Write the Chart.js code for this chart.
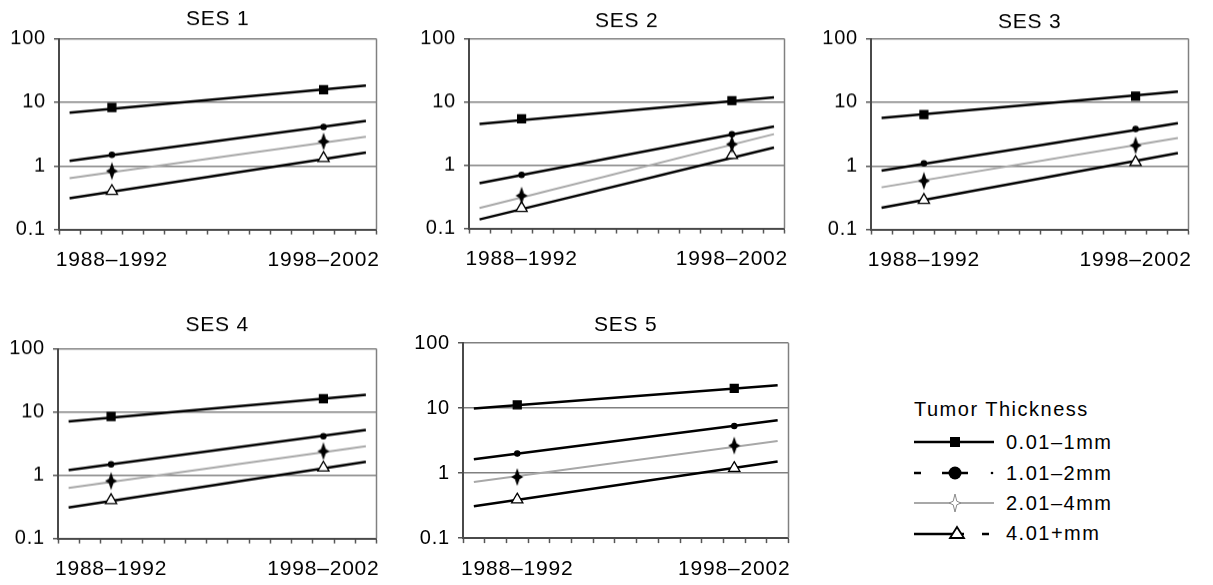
<!DOCTYPE html>
<html>
<head>
<meta charset="utf-8">
<script src="https://cdn.jsdelivr.net/npm/chart.js@4.4.1/dist/chart.umd.min.js"></script>
<style>
  body { margin: 0; background: #fff; width: 1213px; height: 585px; overflow: hidden; position: relative;
         font-family: "Liberation Sans", Arial, Helvetica, sans-serif; }
  .panel { position: absolute; }
  .legend-title, .legend-row { position: absolute; font-size: 20px; line-height: 24px; letter-spacing: 1.5px; color: #000; white-space: nowrap; }
  .legend-row canvas { position: absolute; left: 0; top: 0; }
  .legend-row span { position: absolute; left: 92px; top: 0; }
</style>
</head>
<body>
<div class="panel" id="p1"><canvas id="c1"></canvas></div>
<div class="panel" id="p2"><canvas id="c2"></canvas></div>
<div class="panel" id="p3"><canvas id="c3"></canvas></div>
<div class="panel" id="p4"><canvas id="c4"></canvas></div>
<div class="panel" id="p5"><canvas id="c5"></canvas></div>
<div id="legend"></div>

<script>
// ---- data ----
const periods = ['1988–1992', '1998–2002'];
const periodMidYears = [1990, 2000];
const trendYears = [1988, 2002];
const thicknessGroups = ['0.01–1mm', '1.01–2mm', '2.01–4mm', '4.01+mm'];
const sesGroups = ['SES 1', 'SES 2', 'SES 3', 'SES 4', 'SES 5'];
const yTicks = [0.1, 1, 10, 100];

// observed rates per thickness group: [1988–1992, 1998–2002]
const ses1Rates = [[8.3, 15.8], [1.49, 4.1], [0.83, 2.42], [0.40, 1.32]];
const ses2Rates = [[5.4, 10.5], [0.70, 3.1], [0.33, 2.15], [0.21, 1.44]];
const ses3Rates = [[6.4, 12.5], [1.1, 3.8], [0.58, 2.1], [0.29, 1.14]];
const ses4Rates = [[8.5, 16.2], [1.49, 4.15], [0.81, 2.4], [0.40, 1.31]];
const ses5Rates = [[11.2, 20.1], [2.0, 5.3], [0.87, 2.65], [0.39, 1.19]];

// fitted trend per thickness group: [value at 1988, value at 2002]
const ses1Trend = [[6.9, 18.3], [1.2, 5.1], [0.64, 2.87], [0.31, 1.62]];
const ses2Trend = [[4.5, 11.8], [0.52, 4.1], [0.21, 3.1], [0.139, 1.9]];
const ses3Trend = [[5.7, 14.7], [0.84, 4.7], [0.46, 2.74], [0.22, 1.59]];
const ses4Trend = [[7.1, 18.7], [1.2, 5.2], [0.63, 2.88], [0.31, 1.63]];
const ses5Trend = [[9.9, 22.4], [1.64, 6.5], [0.73, 3.13], [0.31, 1.51]];

const allRates = [ses1Rates, ses2Rates, ses3Rates, ses4Rates, ses5Rates];
const allTrends = [ses1Trend, ses2Trend, ses3Trend, ses4Trend, ses5Trend];

// ---- layout ----
const panelBoxes = [
  { left: 59, top: 39, right: 378, bottom: 229, titleGap: 19 },
  { left: 469, top: 39, right: 786, bottom: 228, titleGap: 17 },
  { left: 871, top: 39, right: 1190, bottom: 229, titleGap: 16 },
  { left: 58, top: 349, right: 378, bottom: 538, titleGap: 23 },
  { left: 463, top: 343, right: 790, bottom: 538, titleGap: 17.5 }
];
const Y_AXIS_W = 62, X_AXIS_H = 48, PAD_RIGHT = 12;
const TITLE_SIZE = 21, TITLE_LH = 1.2, TITLE_PAD_TOP = 2;
const FONT = '"Liberation Sans", Arial, Helvetica, sans-serif';

function makeStar(fill, stroke, inner) {
  const c = document.createElement('canvas');
  c.width = 14; c.height = 20;
  const g = c.getContext('2d');
  g.translate(7, 10);
  g.beginPath();
  g.moveTo(0, -9); g.lineTo(inner, -inner); g.lineTo(6, 0); g.lineTo(inner, inner);
  g.lineTo(0, 9); g.lineTo(-inner, inner); g.lineTo(-6, 0); g.lineTo(-inner, -inner);
  g.closePath();
  g.fillStyle = fill;
  g.fill();
  if (stroke) { g.strokeStyle = stroke; g.lineWidth = 1; g.stroke(); }
  return c;
}

const seriesStyles = [
  { line: '#000', width: 2.5, point: 'rect', radius: 5.6, fill: '#000' },
  { line: '#000', width: 2.5, point: 'circle', radius: 2.6, fill: '#000' },
  { line: '#a8a8a8', width: 2, point: makeStar('#000', null, 2.3), radius: 8, fill: '#000' },
  { line: '#000', width: 2.5, point: 'triangle', radius: 6.5, fill: '#fff' }
];

const framePlugin = {
  id: 'frame',
  beforeDraw(chart) {
    chart.ctx.letterSpacing = '0.8px';
  },
  beforeDatasetsDraw(chart) {
    const { ctx, chartArea: a } = chart;
    ctx.save();
    ctx.strokeStyle = '#808080';
    ctx.lineWidth = 1.5;
    ctx.beginPath();
    ctx.moveTo(a.right, a.top);
    ctx.lineTo(a.right, a.bottom);
    ctx.stroke();
    ctx.restore();
  }
};

function buildDatasets(rates, trend) {
  const points = rates.map((vals, i) => ({
    label: thicknessGroups[i],
    data: vals.map((v, j) => ({ x: periodMidYears[j], y: v })),
    showLine: false,
    pointStyle: seriesStyles[i].point,
    pointRadius: seriesStyles[i].radius,
    pointBackgroundColor: seriesStyles[i].fill,
    pointBorderColor: '#000',
    pointBorderWidth: 1.3
  }));
  const lines = trend.map((vals, i) => ({
    label: thicknessGroups[i] + ' trend',
    data: vals.map((v, j) => ({ x: trendYears[j], y: v })),
    showLine: true,
    borderColor: seriesStyles[i].line,
    borderWidth: seriesStyles[i].width,
    pointRadius: 0
  }));
  return points.concat(lines);
}

function makeChart(k) {
  const box = panelBoxes[k];
  const titlePadBottom = box.titleGap - TITLE_SIZE * TITLE_LH / 2;
  const titleBlock = TITLE_PAD_TOP + TITLE_SIZE * TITLE_LH + titlePadBottom;
  const div = document.getElementById('p' + (k + 1));
  div.style.left = (box.left - Y_AXIS_W) + 'px';
  div.style.top = (box.top - titleBlock) + 'px';
  div.style.width = (box.right - box.left + Y_AXIS_W + PAD_RIGHT) + 'px';
  div.style.height = (titleBlock + box.bottom - box.top + X_AXIS_H) + 'px';

  new Chart(document.getElementById('c' + (k + 1)), {
    type: 'scatter',
    data: { datasets: buildDatasets(allRates[k], allTrends[k]) },
    plugins: [framePlugin],
    options: {
      responsive: true,
      maintainAspectRatio: false,
      animation: false,
      events: [],
      layout: { padding: { left: 0, right: PAD_RIGHT, top: 0, bottom: 0 } },
      plugins: {
        legend: { display: false },
        tooltip: { enabled: false },
        title: {
          display: true,
          text: sesGroups[k],
          fullSize: false,
          color: '#000',
          font: { family: FONT, size: TITLE_SIZE, weight: 'normal', lineHeight: TITLE_LH },
          padding: { top: TITLE_PAD_TOP, bottom: titlePadBottom }
        }
      },
      scales: {
        x: {
          type: 'linear',
          min: 1987.5,
          max: 2002.5,
          afterBuildTicks: axis => {
            const t = [];
            for (let v = 1987.5; v <= 2002.5; v += 1) t.push(v);
            axis.ticks = t.concat(periodMidYears).sort((a, b) => a - b).map(v => ({ value: v }));
          },
          afterFit: s => { s.height = X_AXIS_H; },
          ticks: {
            autoSkip: false,
            maxRotation: 0,
            minRotation: 0,
            padding: 13.5,
            color: '#000',
            font: { family: FONT, size: 21 },
            callback: value => {
              const idx = periodMidYears.indexOf(value);
              return idx >= 0 ? periods[idx] : '';
            }
          },
          grid: {
            drawOnChartArea: false,
            drawTicks: true,
            tickLength: 5,
            tickWidth: 1.5,
            tickColor: ctx => (ctx.tick && periodMidYears.includes(ctx.tick.value)) ? 'rgba(0,0,0,0)' : '#555'
          },
          border: { color: '#4a4a4a', width: 2 }
        },
        y: {
          type: 'logarithmic',
          min: 0.1,
          max: 100,
          afterBuildTicks: axis => { axis.ticks = yTicks.map(v => ({ value: v })); },
          afterFit: s => { s.width = Y_AXIS_W; },
          ticks: {
            padding: 8,
            color: '#000',
            font: { family: FONT, size: 20 },
            callback: value => String(value)
          },
          grid: {
            color: '#808080',
            lineWidth: 1.5,
            tickLength: 5,
            tickColor: '#555'
          },
          border: { color: '#4a4a4a', width: 2 }
        }
      }
    }
  });
}

sesGroups.forEach((_, k) => makeChart(k));

// ---- legend ----
const legendRowTops = [430, 461, 491, 521];
const legend = document.getElementById('legend');
const title = document.createElement('div');
title.className = 'legend-title';
title.style.left = '914px';
title.style.top = '397px';
title.textContent = 'Tumor Thickness';
legend.appendChild(title);

function drawSample(g, i) {
  const cy = 12;
  g.lineCap = 'butt';
  if (i === 0) {
    g.strokeStyle = '#000'; g.lineWidth = 2.5;
    g.beginPath(); g.moveTo(0, cy); g.lineTo(80, cy); g.stroke();
    g.fillStyle = '#000'; g.fillRect(36, cy - 5, 10, 10);
  } else if (i === 1) {
    g.strokeStyle = '#000'; g.lineWidth = 2.5;
    g.beginPath(); g.moveTo(0, cy); g.lineTo(7, cy); g.stroke();
    g.beginPath(); g.moveTo(28, cy); g.lineTo(54, cy); g.stroke();
    g.fillStyle = '#000';
    g.beginPath(); g.arc(41, cy, 6.5, 0, Math.PI * 2); g.fill();
    g.beginPath(); g.arc(78, cy, 1.3, 0, Math.PI * 2); g.fill();
  } else if (i === 2) {
    g.strokeStyle = '#a8a8a8'; g.lineWidth = 2;
    g.beginPath(); g.moveTo(0, cy); g.lineTo(80, cy); g.stroke();
    g.drawImage(makeStar('#fff', '#888', 1.8), 34, cy - 10);
  } else {
    g.strokeStyle = '#000'; g.lineWidth = 2.5;
    g.beginPath(); g.moveTo(0, cy + 1); g.lineTo(50, cy + 1); g.stroke();
    g.beginPath(); g.moveTo(68, cy + 1); g.lineTo(75, cy + 1); g.stroke();
    g.fillStyle = '#fff'; g.lineWidth = 1.8;
    g.beginPath(); g.moveTo(43, cy - 6); g.lineTo(50, cy + 5); g.lineTo(36, cy + 5); g.closePath();
    g.fill(); g.stroke();
  }
}

thicknessGroups.forEach((name, i) => {
  const row = document.createElement('div');
  row.className = 'legend-row';
  row.style.left = '914px';
  row.style.top = legendRowTops[i] + 'px';
  const c = document.createElement('canvas');
  c.width = 85; c.height = 24;
  drawSample(c.getContext('2d'), i);
  const s = document.createElement('span');
  s.textContent = name;
  row.appendChild(c);
  row.appendChild(s);
  legend.appendChild(row);
});
</script>
</body>
</html>
